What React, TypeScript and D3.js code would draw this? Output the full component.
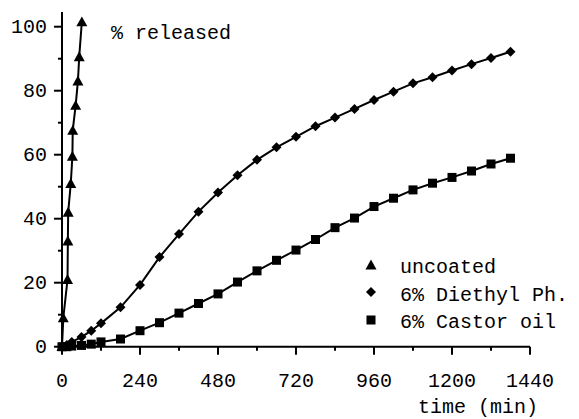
import React from "react";
import * as d3 from "d3";

const uncoatedTime = [0, 4, 17, 18, 19, 27, 32, 33, 42, 49, 53, 61];
const uncoatedVal = [0, 9, 21, 33, 42, 51, 59.5, 67.6, 75.4, 83, 90.6, 101.5];

const diethylTime = [0, 15, 30, 60, 90, 120, 180, 240, 300, 360, 420, 480, 540, 600, 660, 720, 780, 840, 900, 960, 1020, 1080, 1140, 1200, 1260, 1320, 1380];
const diethylVal = [0, 0.5, 1.5, 3, 5, 7.3, 12.3, 19.3, 28, 35.2, 42.2, 48.2, 53.6, 58.4, 62.3, 65.6, 68.9, 71.6, 74.3, 77.1, 79.7, 82.3, 84.2, 86.3, 88.3, 90.2, 92.2];

const castorTime = [0, 15, 30, 60, 90, 120, 180, 240, 300, 360, 420, 480, 540, 600, 660, 720, 780, 840, 900, 960, 1020, 1080, 1140, 1200, 1260, 1320, 1380];
const castorVal = [0, 0, 0.2, 0.4, 0.8, 1.5, 2.4, 5, 7.5, 10.5, 13.5, 16.5, 20.2, 23.7, 27, 30.2, 33.5, 37.2, 40.2, 43.8, 46.4, 49, 51.1, 52.9, 54.9, 57.1, 58.9];

const xMajorTicks = [0, 240, 480, 720, 960, 1200, 1440];
const xMinorTicks = [120, 360, 600, 840, 1080, 1320];
const yMajorTicks = [0, 20, 40, 60, 80, 100];
const yMinorTicks = [10, 30, 50, 70, 90];

const legendLabels = ["uncoated", "6% Diethyl Ph.", "6% Castor oil"];
const yLabel = "% released";
const xLabel = "time (min)";

const FONT = "'Liberation Mono', 'Courier New', monospace";

function marker(kind: string, cx: number, cy: number, key?: any) {
  if (kind === "tri") {
    const s = 5.5;
    return <path key={key} d={`M${cx},${cy - s}L${cx + s},${cy + s * 0.8}L${cx - s},${cy + s * 0.8}Z`} fill="#000" />;
  }
  if (kind === "dia") {
    const s = 5;
    return <path key={key} d={`M${cx},${cy - s}L${cx + s},${cy}L${cx},${cy + s}L${cx - s},${cy}Z`} fill="#000" />;
  }
  const s = 4.5;
  return <rect key={key} x={cx - s} y={cy - s} width={2 * s} height={2 * s} fill="#000" />;
}

export default function App() {
  const x = d3.scaleLinear().domain([0, 1440]).range([62, 530]);
  const y = d3.scaleLinear().domain([0, 100]).range([346.7, 26.7]);
  const line = d3.line<[number, number]>().x((d) => x(d[0])).y((d) => y(d[1]));

  const series = [
    { kind: "tri", t: uncoatedTime, v: uncoatedVal },
    { kind: "dia", t: diethylTime, v: diethylVal },
    { kind: "sq", t: castorTime, v: castorVal },
  ];

  return (
    <svg width={579} height={419} style={{ position: "absolute", left: 0, top: 0, background: "#fff" }}>
      <rect width={579} height={419} fill="#fff" />
      {/* axes */}
      <line x1={x(0)} x2={x(0)} y1={y(0) + 1} y2={12} stroke="#000" strokeWidth={2} />
      <line x1={x(0) - 1} x2={x(1440)} y1={y(0)} y2={y(0)} stroke="#000" strokeWidth={2} />
      {yMajorTicks.map((t) => (
        <g key={"ym" + t}>
          <line x1={x(0) - 8} x2={x(0)} y1={y(t)} y2={y(t)} stroke="#000" strokeWidth={2} />
          <text x={47} y={y(t)} dy="0.33em" textAnchor="end" fontFamily={FONT} fontSize={20}>{t}</text>
        </g>
      ))}
      {yMinorTicks.map((t) => (
        <line key={"yn" + t} x1={x(0) - 4} x2={x(0)} y1={y(t)} y2={y(t)} stroke="#000" strokeWidth={2} />
      ))}
      {xMajorTicks.map((t) => (
        <g key={"xm" + t}>
          <line x1={x(t)} x2={x(t)} y1={y(0)} y2={y(0) + 8} stroke="#000" strokeWidth={2} />
          <text x={x(t)} y={387} textAnchor="middle" fontFamily={FONT} fontSize={20}>{t}</text>
        </g>
      ))}
      {xMinorTicks.map((t) => (
        <line key={"xn" + t} x1={x(t)} x2={x(t)} y1={y(0)} y2={y(0) + 4} stroke="#000" strokeWidth={2} />
      ))}
      <text x={111} y={39} fontFamily={FONT} fontSize={20}>{yLabel}</text>
      <text x={538} y={413} textAnchor="end" fontFamily={FONT} fontSize={20}>{xLabel}</text>
      {/* series */}
      {series.map((s, i) => {
        const pts: [number, number][] = s.t.map((t, j) => [t, s.v[j]]);
        return (
          <g key={"s" + i}>
            <path d={line(pts) || ""} fill="none" stroke="#000" strokeWidth={2} />
            {pts.map((p, j) => marker(s.kind, x(p[0]), y(p[1]), j))}
          </g>
        );
      })}
      {/* legend */}
      {legendLabels.map((l, i) => (
        <g key={"l" + i}>
          {marker(["tri", "dia", "sq"][i], 371, [265, 292, 320][i])}
          <text x={400} y={[273, 301, 328][i]} fontFamily={FONT} fontSize={20}>{l}</text>
        </g>
      ))}
    </svg>
  );
}
